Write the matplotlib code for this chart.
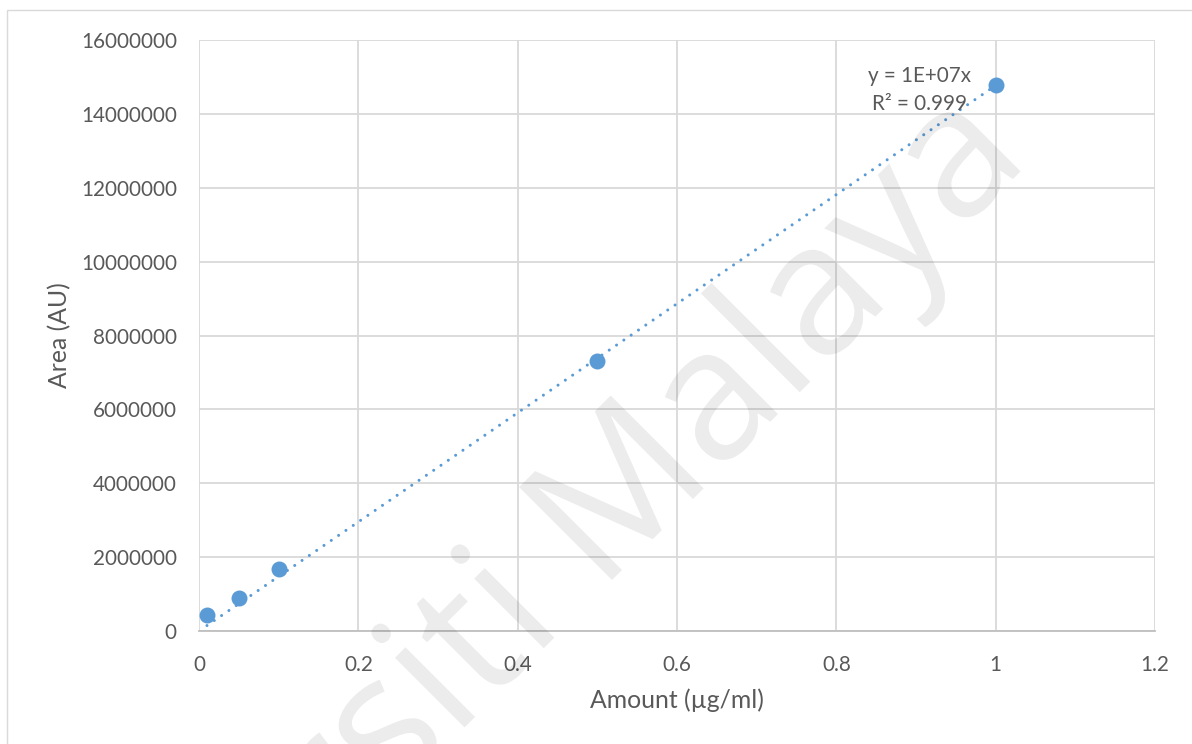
import matplotlib
matplotlib.use("Agg")
import matplotlib.pyplot as plt
import numpy as np
from matplotlib.patches import PathPatch, Rectangle
from matplotlib.textpath import TextPath
from matplotlib.font_manager import FontProperties
from matplotlib.transforms import Affine2D

# =============================================
# data

amount = [0.01, 0.05, 0.1, 0.5, 1.0]
area = [420000, 900000, 1680000, 7300000, 14780000]
equation = "y = 1E+07x"
r_squared = "R² = 0.999"
x_ticks = [0, 0.2, 0.4, 0.6, 0.8, 1, 1.2]
x_labels = ["0", "0.2", "0.4", "0.6", "0.8", "1", "1.2"]
y_ticks = [0, 2000000, 4000000, 6000000, 8000000, 10000000, 12000000, 14000000, 16000000]
watermark = "Universiti Malaya"

# =============================================

blue = "#5B9BD5"
grey_text = "#595959"
grid = "#D9D9D9"
plt.rcParams["font.family"] = ["Lato", "DejaVu Sans"]

W, H = 1192, 744
fig = plt.figure(figsize=(W / 100, H / 100), dpi=100)
fig.patch.set_facecolor("white")

# chart area border (only top and left are visible)
fig.add_artist(Rectangle((7 / W, -0.1), 1.2, (H - 10) / H + 0.1, transform=fig.transFigure,
                         fill=False, edgecolor=grid, linewidth=1.0))

ax = fig.add_axes([199 / W, (H - 631) / H, (1155 - 199) / W, (631 - 40) / H])
ax.set_xlim(0, 1.2)
ax.set_ylim(0, 16000000)

# trendline through origin (least squares, like Excel with intercept = 0)
x = np.array(amount)
y = np.array(area)
slope = (x * y).sum() / (x * x).sum()
xt = np.array([x.min(), x.max()])
ax.plot(xt, slope * xt, color=blue, linewidth=2.2, dashes=(0.001, 2.9),
        dash_capstyle="round", zorder=3)

ax.plot(amount, area, linestyle="none", marker="o", markersize=11.5,
        color=blue, markeredgewidth=0, zorder=4)

ax.set_xticks(x_ticks)
ax.set_xticklabels(x_labels)
ax.set_yticks(y_ticks)
ax.set_yticklabels([str(v) for v in y_ticks])
ax.tick_params(length=0, labelsize=14.9, colors=grey_text)
ax.tick_params(axis="y", pad=16)
ax.tick_params(axis="x", pad=17.5)
ax.grid(True, color=grid, linewidth=1.3)
ax.set_axisbelow(True)
for s in ["top", "right", "left"]:
    ax.spines[s].set_visible(False)
ax.spines["bottom"].set_color("#BFBFBF")
ax.spines["bottom"].set_linewidth(1.3)

ax.set_xlabel("Amount (µg/ml)", fontsize=17.8, color=grey_text)
ax.set_ylabel("Area (AU)", fontsize=17.8, color=grey_text)
ax.xaxis.set_label_coords(677 / W, (H - 688) / H, transform=fig.transFigure)
ax.yaxis.set_label_coords(71 / W, (H - 335) / H, transform=fig.transFigure)

fig.text(919 / W, (H - 90) / H, equation + "\n" + r_squared, ha="center", va="center",
         fontsize=14.9, color=grey_text, linespacing=1.45)

# =============================================
# faint diagonal watermark

prop = FontProperties(family="Open Sans")
full = TextPath((0, 0), watermark, size=1, prop=prop)
tail = TextPath((0, 0), "Malaya", size=1, prop=prop)
m_left = full.get_extents().x1 - tail.get_extents().x1 + tail.get_extents().x0
em = 184
ang = np.deg2rad(45)
target = np.array([612, H - 580])
shift = target - em * m_left * np.array([np.cos(ang), np.sin(ang)])
tr = Affine2D().scale(em).rotate(ang).translate(*shift)
fig.add_artist(PathPatch(full, transform=tr, facecolor="black", alpha=0.075,
                         edgecolor="none", zorder=5))

fig.savefig("out.png", dpi=100)
